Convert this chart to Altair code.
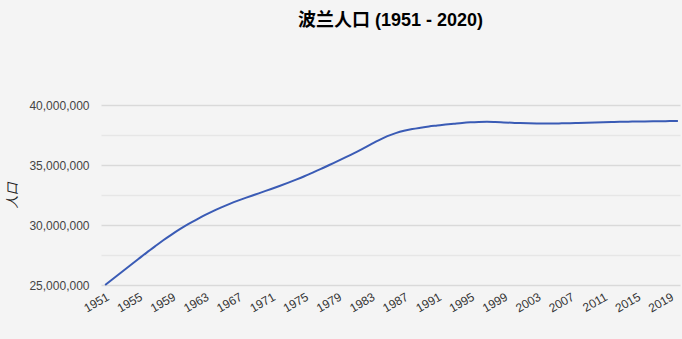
import altair as alt
import pandas as pd

years = list(range(1951, 2021))
population_millions = [
    25.0, 25.54, 26.08, 26.62, 27.16, 27.7, 28.22, 28.73, 29.2, 29.65,
    30.07, 30.45, 30.82, 31.16, 31.47, 31.76, 32.03, 32.28, 32.52, 32.76,
    33.0, 33.25, 33.51, 33.78, 34.06, 34.36, 34.67, 35.0, 35.32, 35.65,
    35.99, 36.35, 36.72, 37.08, 37.4, 37.66, 37.86, 38.0, 38.11, 38.21,
    38.29, 38.37, 38.44, 38.51, 38.56, 38.59, 38.6, 38.58, 38.55, 38.52,
    38.49, 38.47, 38.46, 38.46, 38.46, 38.47, 38.48, 38.5, 38.52, 38.54,
    38.56, 38.58, 38.6, 38.61, 38.62, 38.63, 38.64, 38.65, 38.66, 38.67,
]
x_tick_years = list(range(1951, 2020, 4))
y_tick_values = [25000000, 27500000, 30000000, 32500000, 35000000, 37500000, 40000000]

df = pd.DataFrame({"year": years, "pop": [v * 1e6 for v in population_millions]})

FONT = "Liberation Sans, Arial, Noto Sans CJK SC"

chart = (
    alt.Chart(df)
    .mark_line(color="#3a5bb5", strokeWidth=2, interpolate="monotone")
    .encode(
        x=alt.X(
            "year:Q",
            scale=alt.Scale(domain=[1950.5, 2020.25], nice=False, zero=False),
            axis=alt.Axis(
                values=x_tick_years,
                format="d",
                title=None,
                labelAngle=330,
                labelAlign="right",
                labelBaseline="top",
                labelPadding=6,
                labelFontSize=12,
                labelColor="#333333",
                labelFont=FONT,
                domain=False,
                ticks=False,
                grid=False,
                labelOverlap=False,
            ),
        ),
        y=alt.Y(
            "pop:Q",
            scale=alt.Scale(domain=[25000000, 40000000], nice=False, zero=False),
            axis=alt.Axis(
                values=y_tick_values,
                labelExpr="datum.value % 5000000 === 0 ? format(datum.value, ',') : ''",
                title="人口",
                titleFont=FONT,
                titleFontSize=13,
                titleFontWeight="normal",
                titleFontStyle="italic",
                titleColor="#222222",
                titleX=-89,
                titleY=90,
                titleAngle=270,
                titleAlign="center",
                titleBaseline="middle",
                labelFontSize=12,
                labelColor="#444444",
                labelFont=FONT,
                labelPadding=12,
                domain=False,
                ticks=False,
                gridColor={"condition": {"test": "datum.value % 5000000 === 0", "value": "#d9d9d9"}, "value": "#e6e6e6"},
                gridWidth=1.5,
            ),
        ),
    )
    .properties(
        width=579,
        height=180,
        background="#f4f4f4",
        padding={"left": 101, "top": 105, "right": 2, "bottom": 54},
        autosize=alt.AutoSizeParams(type="none"),
        title=alt.TitleParams(
            "波兰人口 (1951 - 2020)",
            font=FONT,
            fontSize=18,
            fontWeight="bold",
            color="#000000",
            anchor="middle",
            offset=69,
        ),
    )
    .configure_view(stroke=None)
)

chart.save("out.html", embed_options={"renderer": "svg", "actions": False})
